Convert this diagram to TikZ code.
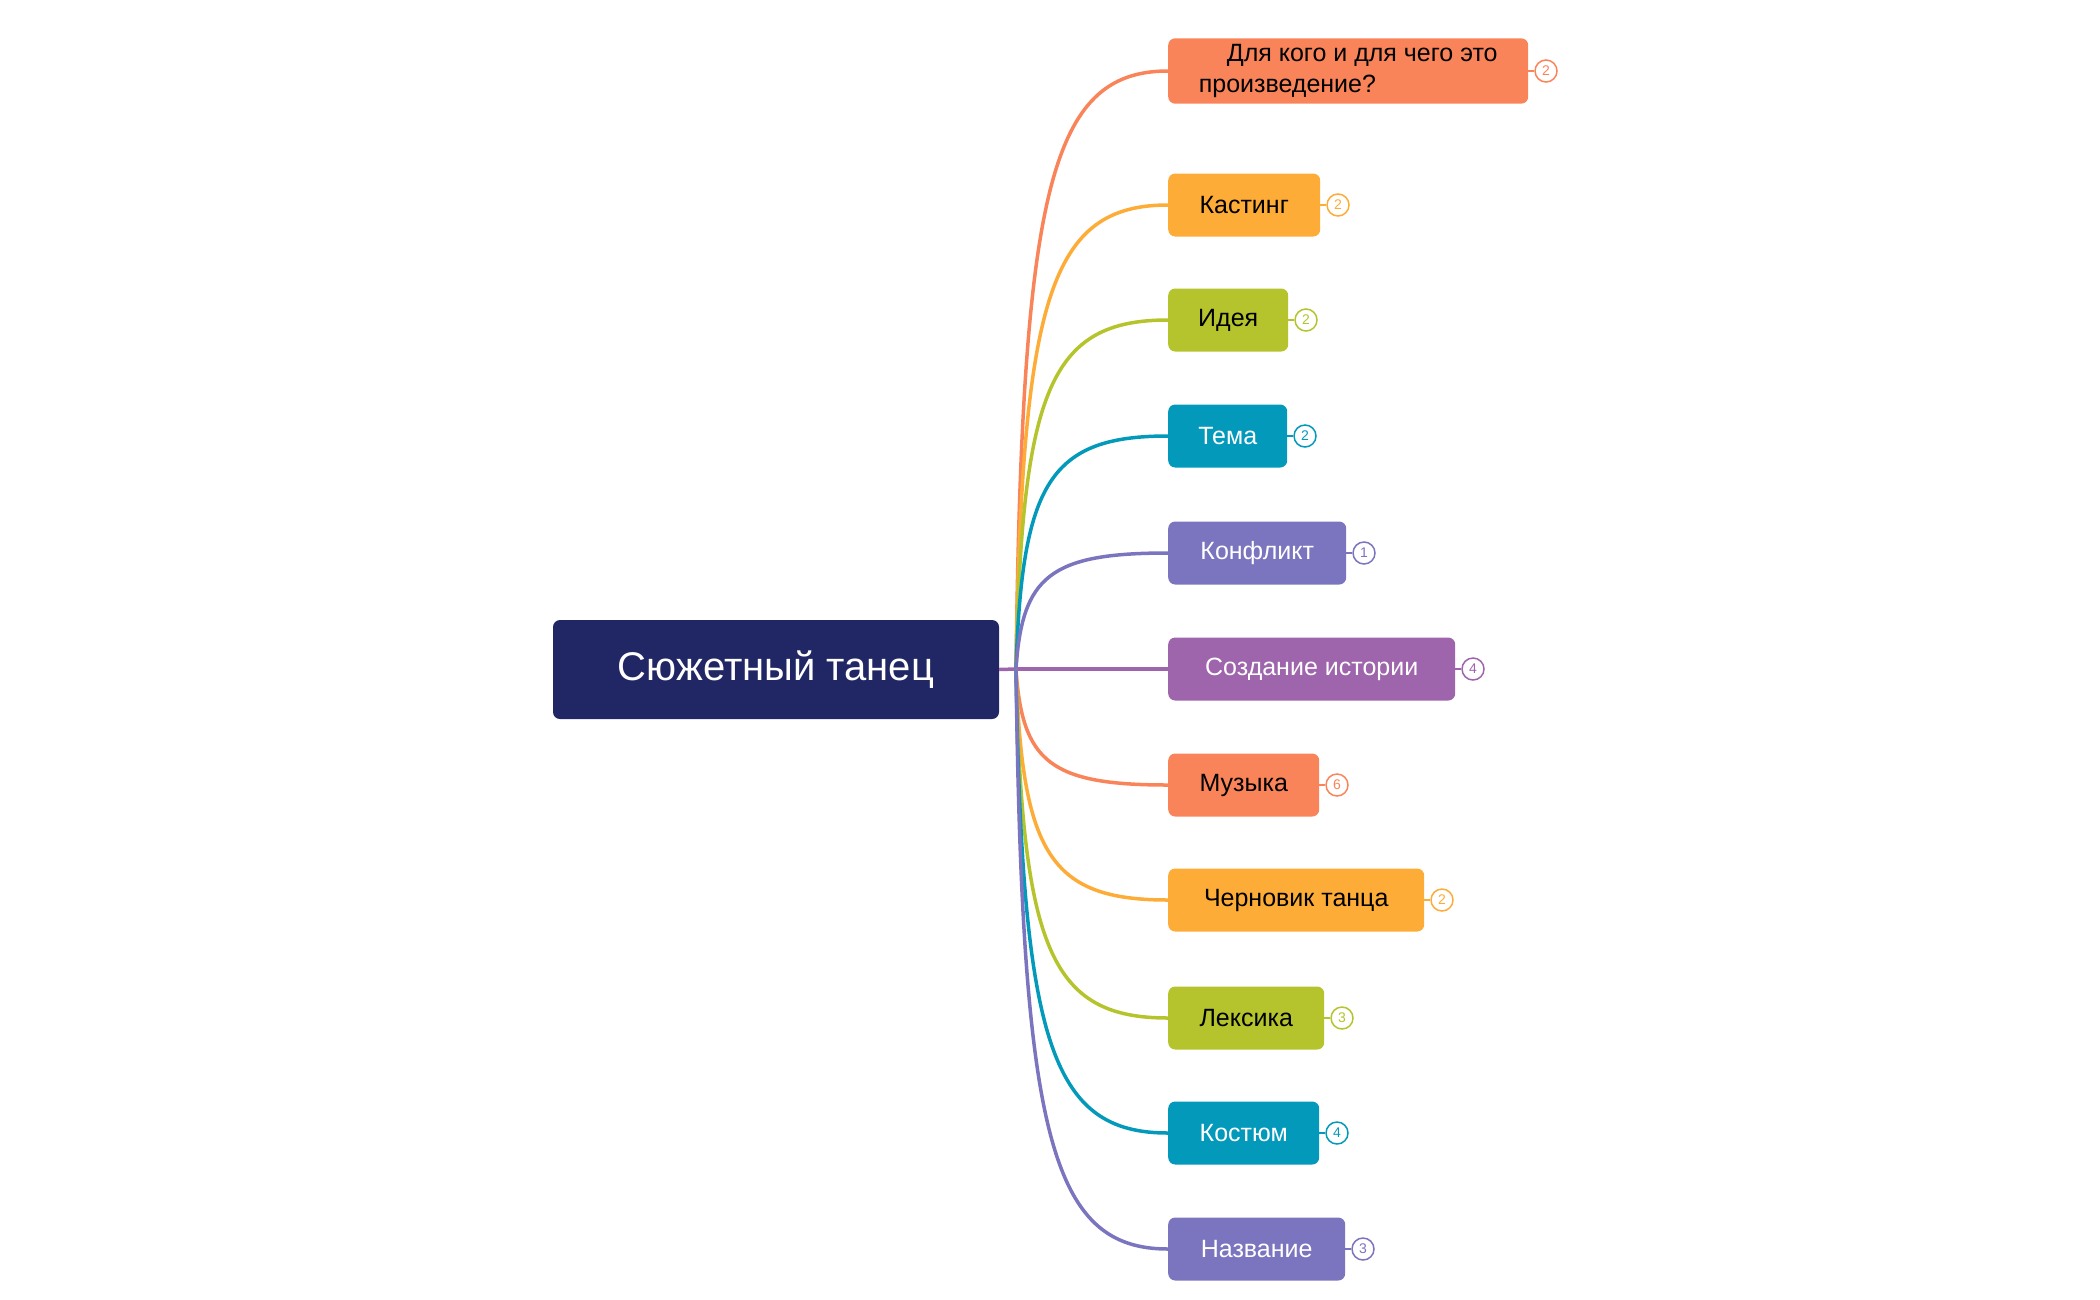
\documentclass[tikz,border=0pt]{standalone}
\usepackage{fontspec}
\setmainfont{Liberation Sans}
\definecolor{cO}{HTML}{FA8459}
\definecolor{cY}{HTML}{FDAC37}
\definecolor{cG}{HTML}{B5C42C}
\definecolor{cT}{HTML}{0399BB}
\definecolor{cP}{HTML}{7B74BE}
\definecolor{cV}{HTML}{9E64AC}
\definecolor{cN}{HTML}{202764}
\tikzset{
 br/.style={rounded corners=7pt,anchor=west,inner xsep=0pt,inner ysep=6pt,minimum height=63pt,align=left,font=\fontsize{25}{31}\selectfont},
 badge/.style={circle,draw,line width=1.5pt,fill=white,minimum size=22pt,inner sep=0pt,font=\fontsize{14}{14}\selectfont},
 ln/.style={line width=3.5pt}
}
\begin{document}
\begin{tikzpicture}[x=1pt,y=-1pt]
\useasboundingbox (0,0) rectangle (2100,1299);
\node[fill=cN,text=white,rounded corners=7pt,minimum width=446pt,minimum height=99pt,font=\fontsize{40}{48}\selectfont] (c) at (776,669.5) {Сюжетный танец};
\coordinate (s) at (1016,669);
\draw[cV,ln] (c.east) -- (s);
\foreach \n/\y/\r/\col/\tc/\txt/\b in {
 a/71/1528/cO/black/{Для кого и для чего это\\произведение?}/2,
 b/205/1320/cY/black/Кастинг/2,
 d/320/1288/cG/black/Идея/2,
 e/436/1287/cT/white/Тема/2,
 f/553/1346/cP/white/Конфликт/1,
 g/669/1455/cV/white/Создание истории/4,
 h/785/1319/cO/black/Музыка/6,
 i/900/1424/cY/black/Черновик танца/2,
 j/1018/1324/cG/black/Лексика/3,
 k/1133/1319/cT/white/Костюм/4,
 l/1249/1345/cP/white/Название/3}{
 \pgfmathsetmacro\w{\r-1168}
 \node[br,fill=\col,text=\tc,minimum width=\w pt] (\n) at (1168,\y) {\hspace*{28pt}\txt\hspace*{28pt}};
 \node[badge,draw=\col,text=\col] (\n b) at (\r+18,\y) {\b};
 \draw[\col,line width=1.5pt] (\n.east) -- (\n b.west);
 \pgfmathsetmacro\ym{0.8*\y+0.2*669}
 \draw[\col,ln] (s) .. controls (1022,\ym) and (1050,\y) .. (\n.west);
}
\end{tikzpicture}
\end{document}
